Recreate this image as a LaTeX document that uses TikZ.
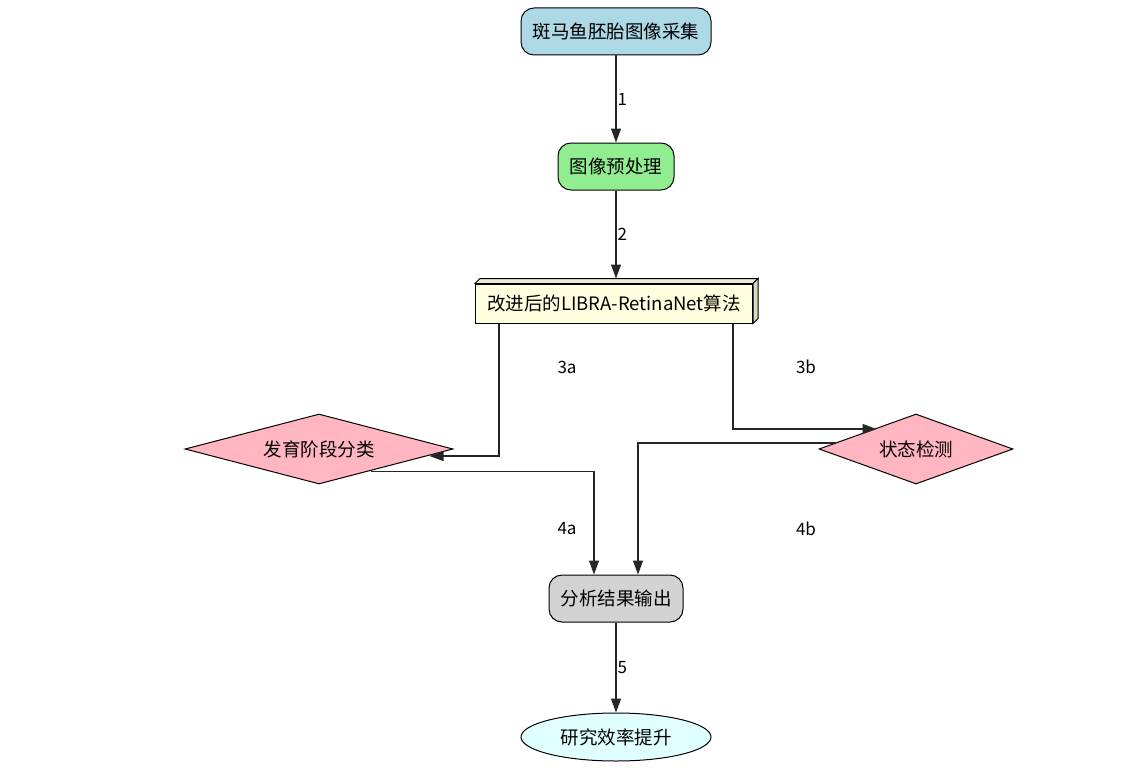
\documentclass[tikz,border=0pt]{standalone}
\usepackage{fontspec}
\setmainfont{Noto Sans CJK SC}
\usetikzlibrary{shapes.geometric,arrows.meta}
\begin{document}
\begin{tikzpicture}[x=1pt,y=-1pt,
  every node/.style={font=\fontsize{18.5}{20}\selectfont, inner sep=0pt},
  rbox/.style={draw=black, line width=1pt, rounded corners=13pt, minimum height=47pt},
  dia/.style={draw=black, line width=1pt, diamond, minimum height=70pt},
  conn/.style={draw=black!85, line width=1.1pt},
  arr/.style={conn, -{Triangle[length=14pt,width=10pt]}},
  elabel/.style={font=\fontsize{17}{19}\selectfont}
]
\path[use as bounding box] (0,0) rectangle (1147,768);
\definecolor{lb}{HTML}{ADD8E6}
\definecolor{lg}{HTML}{90EE90}
\definecolor{ly}{HTML}{FFFFE0}
\definecolor{lgray}{HTML}{D3D3D3}
\definecolor{lc}{HTML}{E0FFFF}
\definecolor{lpink}{HTML}{FFB6C1}

\node[rbox, fill=lb, minimum width=190pt] (n1) at (616,31.5) {斑马鱼胚胎图像采集};
\node[rbox, fill=lg, minimum width=116pt] (n2) at (616,166.5) {图像预处理};
\node[draw=black, line width=1pt, fill=ly, minimum width=277pt, minimum height=39pt] (n3) at (614,303.5) {改进后的LIBRA-RetinaNet算法};
\draw[line width=1pt, fill=ly!92!black] (n3.north west) -- ++(5,-5) -- ([shift={(5,-5)}]n3.north east) -- (n3.north east) -- cycle;
\draw[line width=1pt, fill=ly!85!black] (n3.north east) -- ++(5,-5) -- ([shift={(5,-5)}]n3.south east) -- (n3.south east) -- cycle;
\node[dia, fill=lpink, aspect=3.83, minimum width=268pt] (d1) at (319,449) {发育阶段分类};
\node[dia, fill=lpink, aspect=2.77, minimum width=194pt] (d2) at (916,449) {状态检测};
\node[rbox, fill=lgray, minimum width=134pt] (n6) at (616,598.5) {分析结果输出};
\node[draw=black, line width=1pt, ellipse, fill=lc, minimum width=190pt, minimum height=48pt] (n7) at (616,737) {研究效率提升};

\coordinate (t2) at ([yshift=5pt]n2.south |- n3.north);
\draw[arr] (n1.south) -- (n2.north) node[midway, anchor=west, xshift=1pt, elabel] {1};
\draw[arr] (n2.south) -- (t2) node[midway, anchor=west, xshift=1pt, elabel] {2};
\draw[arr] ([xshift=-115pt]n3.south) |- ([shift={(-24,7)}]d1.east);
\draw[arr] ([xshift=119pt]n3.south) |- ([shift={(58,-20)}]d2.west);
\draw[arr] ([shift={(52,-13)}]d1.south) -| ([xshift=-22pt]n6.north);
\draw[arr] ([shift={(17,-6)}]d2.west) -| ([xshift=22pt]n6.north);
\draw[arr] (n6.south) -- (n7.north) node[midway, anchor=west, xshift=1pt, elabel] {5};

\node[elabel] (l3a) at (567,367) {3a};
\node[elabel] (l3b) at (806,367) {3b};
\node[elabel] (l4a) at (567,529) {4a};
\node[elabel] (l4b) at (806,529) {4b};
\end{tikzpicture}
\end{document}
